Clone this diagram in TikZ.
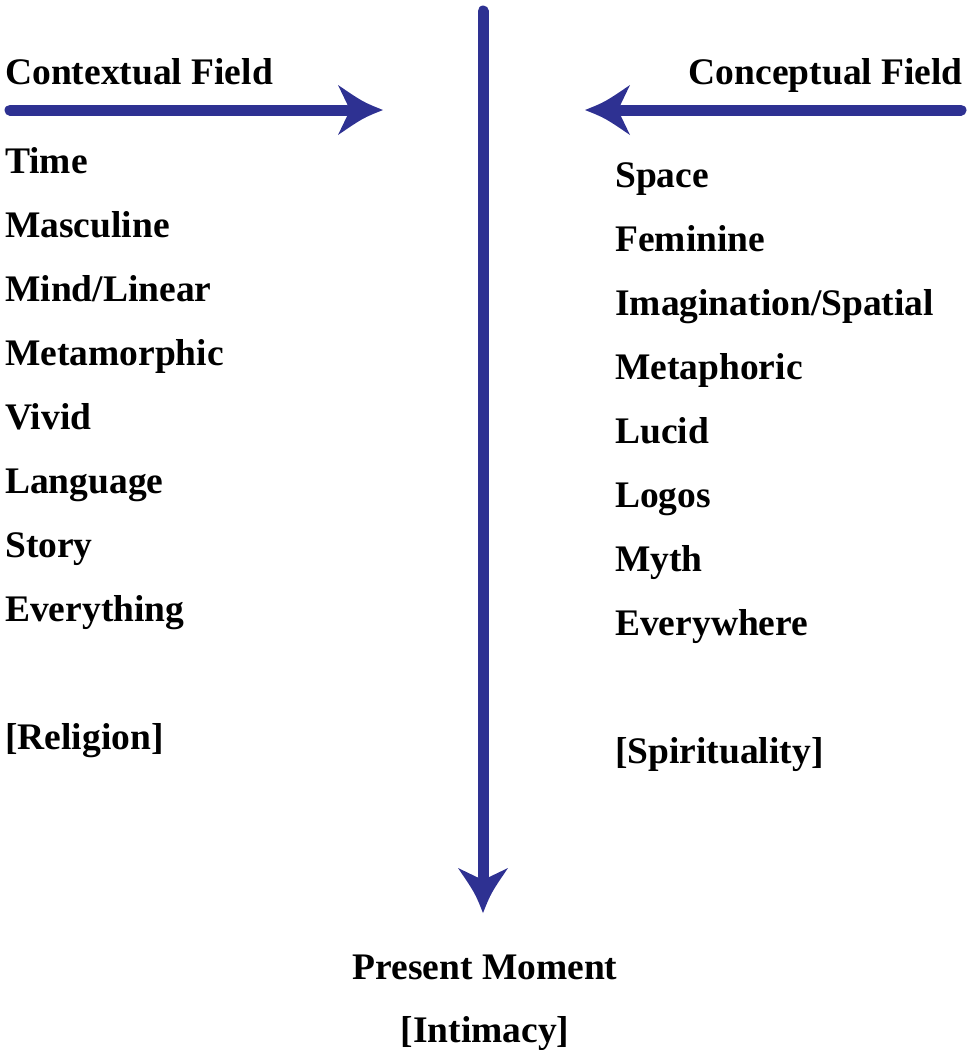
\documentclass[tikz,border=0pt]{standalone}
\usepackage{fontspec}
\setmainfont{Liberation Serif}
\usetikzlibrary{calc}
\definecolor{arrowblue}{HTML}{2E3192}
\begin{document}
\begin{tikzpicture}[x=1pt,y=-1pt,
  lbl/.style={font=\fontsize{37.5}{37.5}\selectfont\bfseries, inner sep=0pt, text=black},
  shaft/.style={draw=arrowblue, line width=11pt, line cap=round},
  head/.style={fill=arrowblue, draw=none}]
\useasboundingbox (0,0) rectangle (976,1050);
% connector end points
\coordinate (vtop) at (483,11);
\coordinate (vtip) at (483,913);
\coordinate (lstart) at (10,110);
\coordinate (ltip) at (383,110);
\coordinate (rstart) at (961,110);
\coordinate (rtip) at (585,110);
% shafts
\draw[shaft] (vtop) -- ($(vtip)+(0,-36)$);
\draw[shaft] (lstart) -- ($(ltip)+(-36,0)$);
\draw[shaft] (rstart) -- ($(rtip)+(36,0)$);
% heads
\fill[head] (vtip) .. controls ($(vtip)+(-8,-20)$) .. ($(vtip)+(-25,-45)$)
  -- ($(vtip)+(0,-33)$) -- ($(vtip)+(25,-45)$) .. controls ($(vtip)+(8,-20)$) .. (vtip) -- cycle;
\fill[head] (ltip) .. controls ($(ltip)+(-20,-8)$) .. ($(ltip)+(-45,-25)$)
  -- ($(ltip)+(-33,0)$) -- ($(ltip)+(-45,25)$) .. controls ($(ltip)+(-20,8)$) .. (ltip) -- cycle;
\fill[head] (rtip) .. controls ($(rtip)+(20,-8)$) .. ($(rtip)+(45,-25)$)
  -- ($(rtip)+(33,0)$) -- ($(rtip)+(45,25)$) .. controls ($(rtip)+(20,8)$) .. (rtip) -- cycle;
% headers
\node[lbl, anchor=base west] (ctx) at (5,84) {Contextual Field};
\node[lbl, anchor=base east] (cpt) at (963,84) {Conceptual Field};
% left column
\node[lbl, anchor=base west] (l1) at (5,173) {Time};
\node[lbl, anchor=base west] (l2) at (5,237) {Masculine};
\node[lbl, anchor=base west] (l3) at (5,301) {Mind/Linear};
\node[lbl, anchor=base west] (l4) at (5,365) {Metamorphic};
\node[lbl, anchor=base west] (l5) at (5,429) {Vivid};
\node[lbl, anchor=base west] (l6) at (5,493) {Language};
\node[lbl, anchor=base west] (l7) at (5,557) {Story};
\node[lbl, anchor=base west] (l8) at (5,621) {Everything};
\node[lbl, anchor=base west] (l9) at (5,749) {[Religion]};
% right column
\node[lbl, anchor=base west] (r1) at (615,187) {Space};
\node[lbl, anchor=base west] (r2) at (615,251) {Feminine};
\node[lbl, anchor=base west] (r3) at (615,315) {Imagination/Spatial};
\node[lbl, anchor=base west] (r4) at (615,379) {Metaphoric};
\node[lbl, anchor=base west] (r5) at (615,443) {Lucid};
\node[lbl, anchor=base west] (r6) at (615,507) {Logos};
\node[lbl, anchor=base west] (r7) at (615,571) {Myth};
\node[lbl, anchor=base west] (r8) at (615,635) {Everywhere};
\node[lbl, anchor=base west] (r9) at (615,763) {[Spirituality]};
% bottom
\node[lbl, anchor=base] (pm) at (485,979) {Present Moment};
\node[lbl, anchor=base] (im) at (485,1042) {[Intimacy]};
\end{tikzpicture}
\end{document}
